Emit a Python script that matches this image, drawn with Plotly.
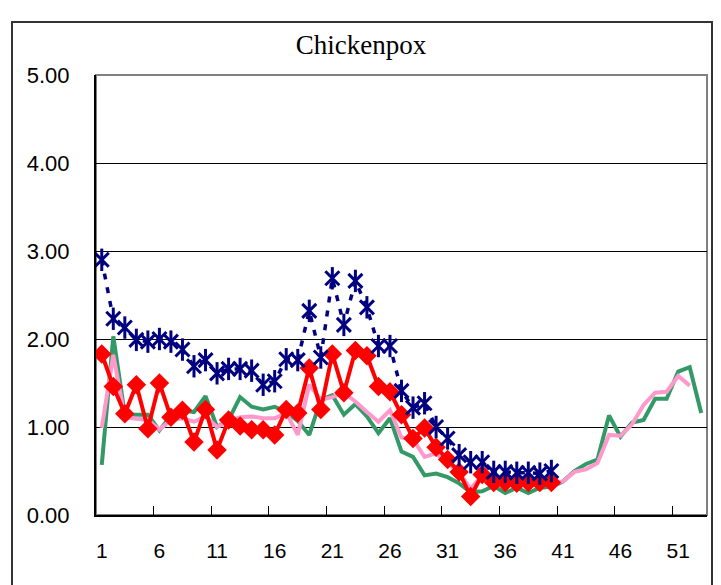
import plotly.graph_objects as go

weeks = list(range(1, 54))
tick_labels = [str(w) for w in weeks]

series_navy = [2.90, 2.23, 2.13, 1.99, 1.97, 2.00, 1.97, 1.88, 1.69, 1.76,
               1.61, 1.66, 1.66, 1.64, 1.48, 1.52, 1.77, 1.76, 2.32, 1.79,
               2.69, 2.16, 2.66, 2.36, 1.92, 1.92, 1.41, 1.22, 1.27, 1.00,
               0.87, 0.68, 0.60, 0.60, 0.49, 0.49, 0.48, 0.48, 0.47, 0.50]

series_red = [1.83, 1.46, 1.15, 1.48, 0.98, 1.50, 1.11, 1.19, 0.83, 1.20,
              0.74, 1.08, 1.01, 0.97, 0.97, 0.91, 1.20, 1.16, 1.67, 1.20,
              1.83, 1.39, 1.87, 1.81, 1.46, 1.40, 1.14, 0.87, 0.99, 0.77,
              0.63, 0.49, 0.21, 0.46, 0.37, 0.37, 0.36, 0.37, 0.37, 0.37]

series_pink = [0.99, 1.82, 1.11, 1.10, 1.08, 0.97, 1.08, 1.10, 1.06, 1.12,
               1.00, 1.06, 1.11, 1.12, 1.10, 1.10, 1.16, 0.91, 1.48, 1.31,
               1.34, 1.39, 1.29, 1.17, 1.06, 1.19, 0.88, 0.86, 0.66, 0.70,
               0.59, 0.48, 0.30, 0.45, 0.38, 0.36, 0.37, 0.36, 0.37, 0.37,
               0.38, 0.49, 0.52, 0.59, 0.91, 0.90, 1.03, 1.25, 1.39, 1.40,
               1.58, 1.47]

series_green = [0.57, 2.03, 1.14, 1.14, 1.14, 0.96, 1.13, 1.19, 1.17, 1.35,
                1.00, 1.08, 1.34, 1.23, 1.20, 1.23, 1.17, 1.07, 0.91, 1.31,
                1.36, 1.14, 1.26, 1.12, 0.93, 1.10, 0.72, 0.66, 0.45, 0.47,
                0.43, 0.36, 0.26, 0.27, 0.33, 0.25, 0.31, 0.25, 0.31, 0.32,
                0.38, 0.50, 0.58, 0.63, 1.13, 0.89, 1.05, 1.08, 1.32, 1.32,
                1.63, 1.68, 1.16]

x_labels = tick_labels

NAVY = "#000080"

fig = go.Figure()

fig.add_trace(go.Scatter(
    x=x_labels[:len(series_green)], y=series_green, mode="lines",
    line=dict(color="#339966", width=4), showlegend=False))

fig.add_trace(go.Scatter(
    x=x_labels[:len(series_pink)], y=series_pink, mode="lines",
    line=dict(color="#FF99CC", width=4), showlegend=False))

fig.add_trace(go.Scatter(
    x=x_labels[:len(series_red)], y=series_red, mode="lines+markers",
    line=dict(color="#FF0000", width=4),
    marker=dict(symbol="diamond", size=15, color="#FF0000"),
    showlegend=False))

fig.add_trace(go.Scatter(
    x=x_labels[:len(series_navy)], y=series_navy, mode="lines+markers",
    line=dict(color=NAVY, width=3.5, dash="6px,8px"),
    marker=dict(symbol="x-thin-open", size=14, color=NAVY,
                line=dict(color=NAVY, width=3)),
    showlegend=False))

fig.add_trace(go.Scatter(
    x=x_labels[:len(series_navy)], y=series_navy, mode="markers",
    marker=dict(symbol="line-ns-open", size=16, color=NAVY,
                line=dict(color=NAVY, width=3)),
    showlegend=False))

# page body has an 8px margin; positions are relative to the figure
OFF = 8
L, R, T, B = 96 - OFF, 707 - OFF, 75 - OFF, 515 - OFF
W, H = 721 - OFF, 585 - OFF

def px_x(p):
    return (p - OFF - L) / (R - L)

def px_y(p):
    return (B - (p - OFF)) / (B - T)

fig.update_layout(
    width=W, height=H,
    margin=dict(l=L, r=W - R, t=T, b=H - B, autoexpand=False),
    paper_bgcolor="white", plot_bgcolor="white",
    title=dict(text="Chickenpox", x=(361 - OFF) / W, xref="container",
               xanchor="center",
               y=1 - (45 - OFF) / H, yref="container", yanchor="middle",
               font=dict(family="Liberation Serif", size=27, color="black")),
    shapes=[
        dict(type="rect", xref="paper", yref="paper",
             x0=0, x1=1, y0=0, y1=1, layer="below",
             line=dict(color="#808080", width=2)),
        dict(type="rect", xref="paper", yref="paper",
             x0=px_x(12), x1=px_x(712), y0=px_y(600), y1=px_y(22),
             line=dict(color="#333333", width=2)),
    ],
)

fig.update_xaxes(
    type="category", categoryorder="array", categoryarray=x_labels,
    range=[-0.5, 52.5], tickmode="linear", tick0=0, dtick=5,
    tickson="boundaries", ticks="inside", ticklen=9, tickwidth=1,
    tickcolor="black", showgrid=False, zeroline=False,
    showline=True, linecolor="black", linewidth=2,
    tickangle=0, automargin=False,
    ticklabelstandoff=16,
    tickfont=dict(family="Liberation Sans", size=21, color="black"))

fig.update_yaxes(
    range=[0, 5], tickmode="linear", tick0=0, dtick=1, tickformat=".2f",
    showgrid=True, gridcolor="#000000", gridwidth=1, zeroline=False,
    showline=True, linecolor="black", linewidth=2, ticks="",
    automargin=False,
    ticklabelstandoff=20,
    tickfont=dict(family="Liberation Sans", size=22, color="black"))

fig.write_html("out.html")
